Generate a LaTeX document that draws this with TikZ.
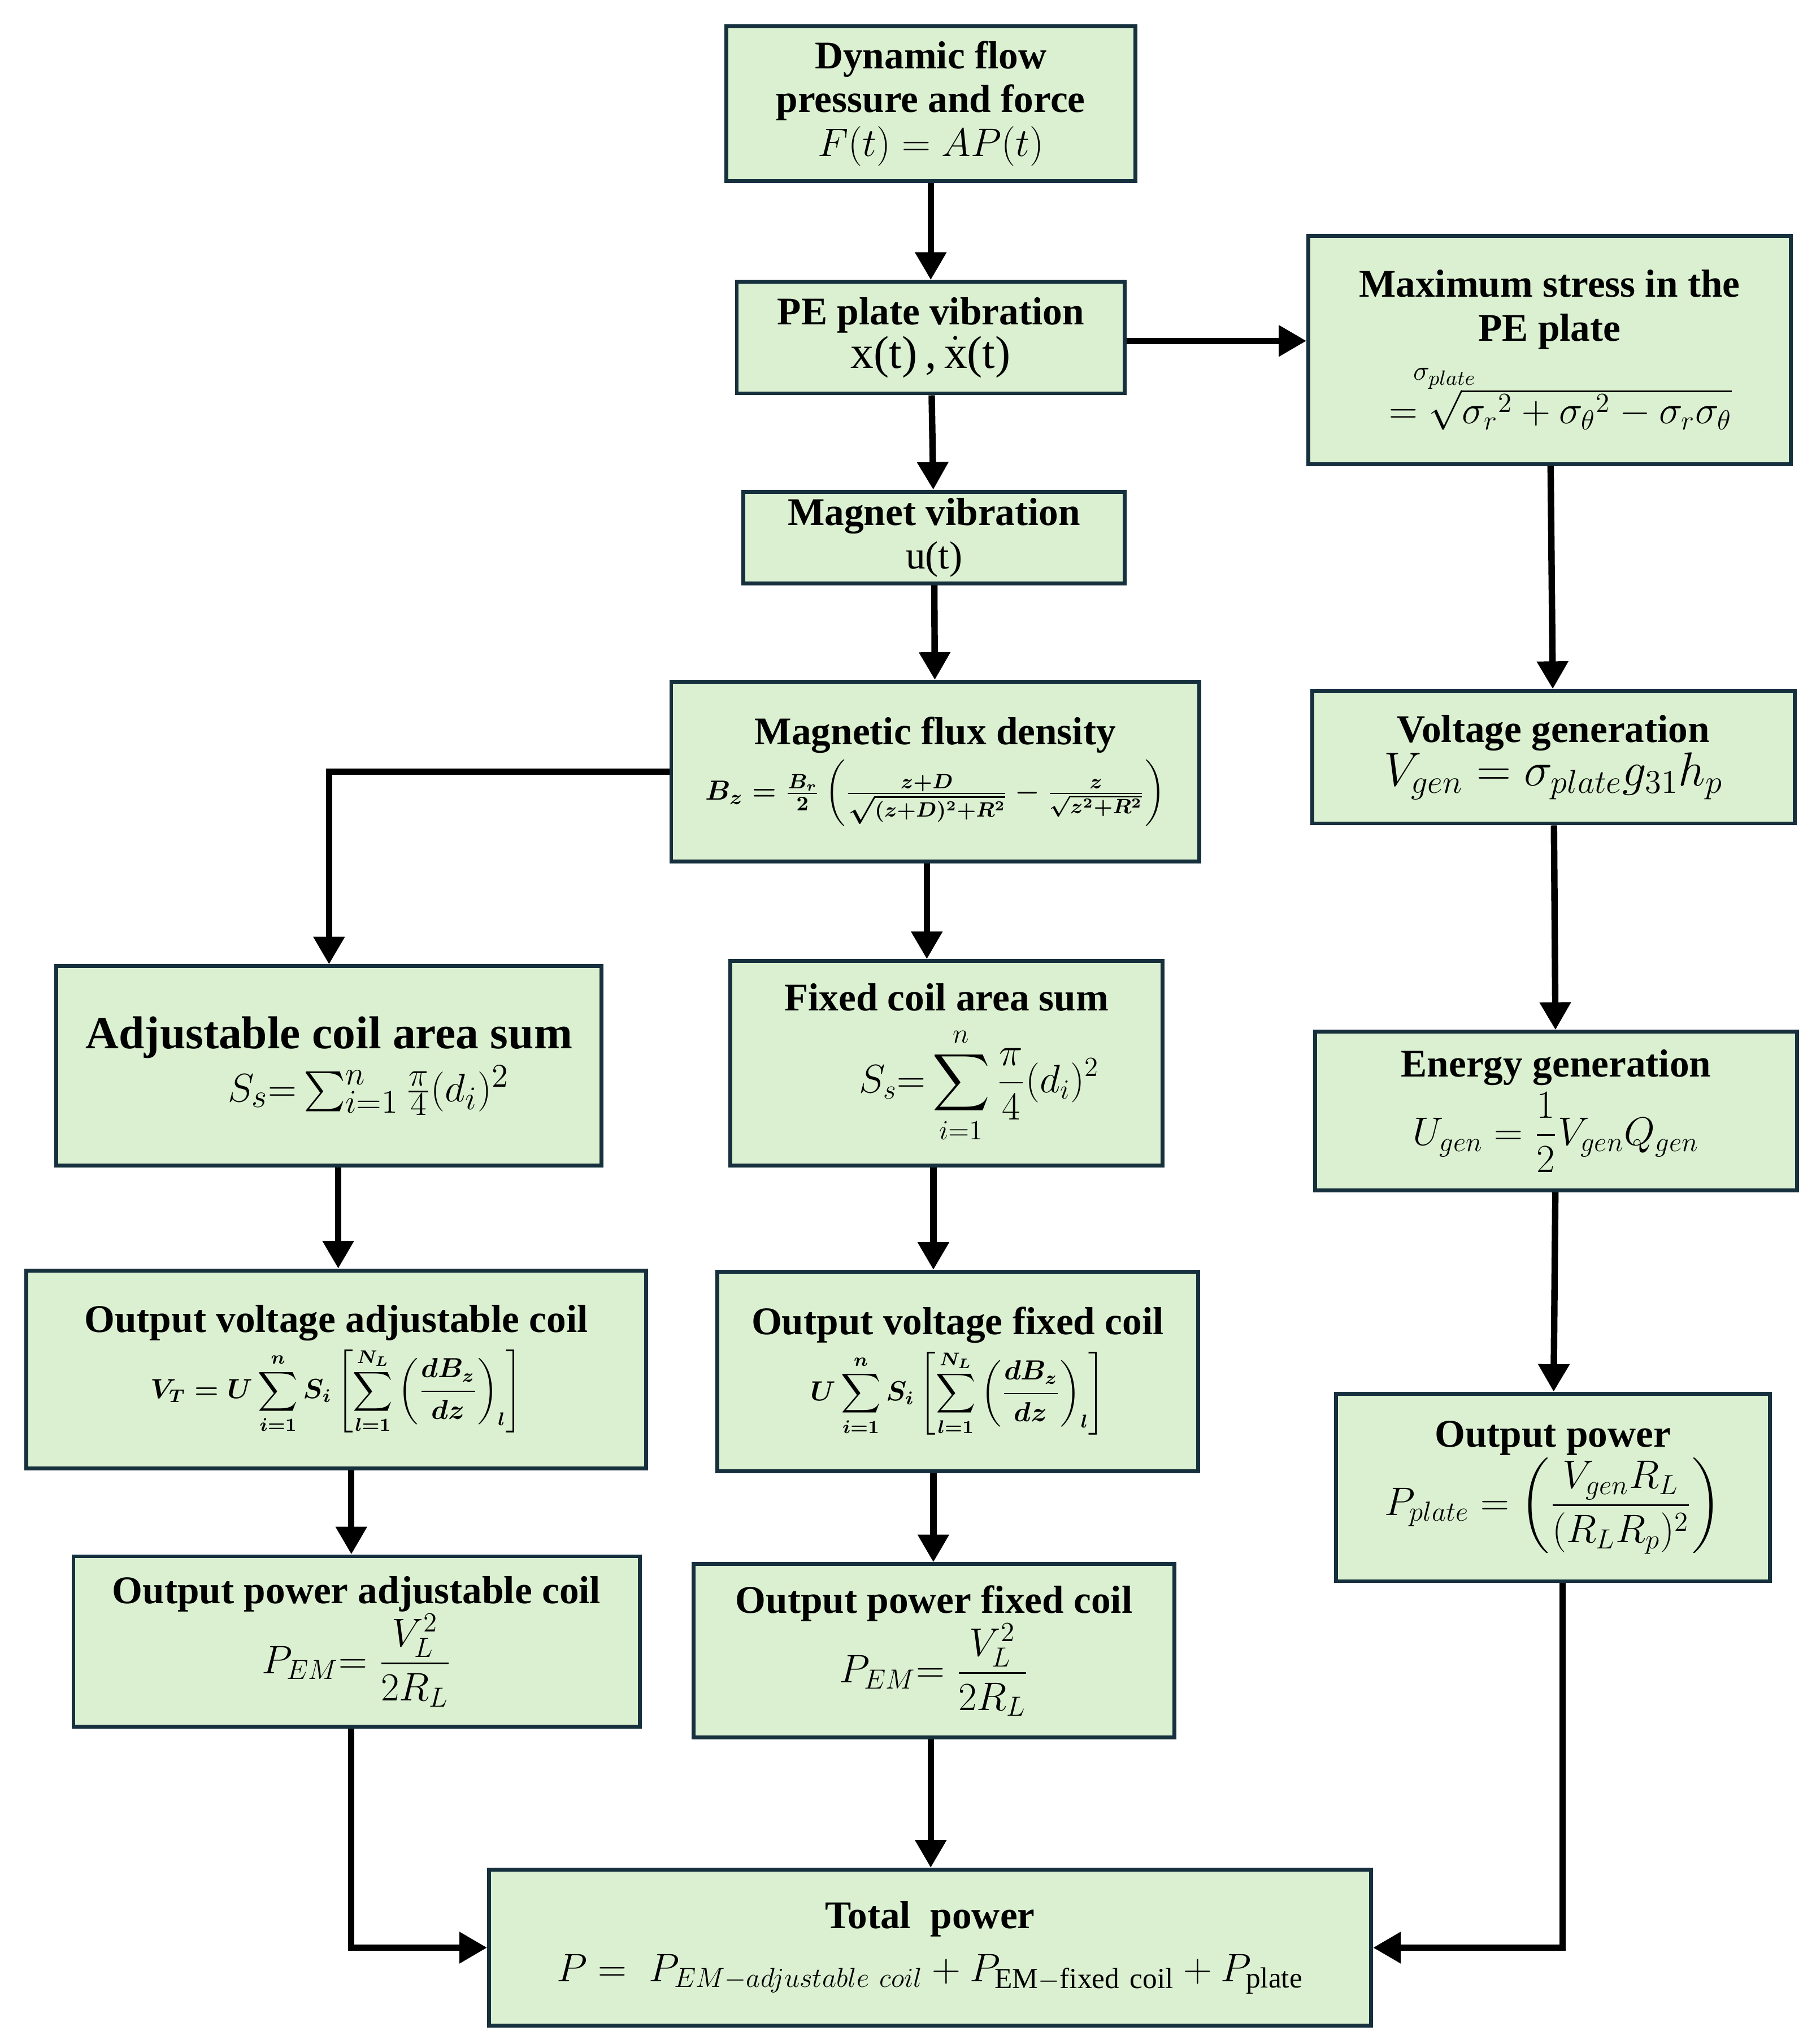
\documentclass[tikz,border=0pt]{standalone}
\usepackage{amsmath}
\usepackage{fontspec}
\setmainfont{Liberation Serif}
\usetikzlibrary{arrows.meta}
\definecolor{boxfill}{RGB}{218,240,208}
\definecolor{boxdraw}{RGB}{22,48,62}
\tikzset{
 box/.style={draw=boxdraw,line width=1.7pt,fill=boxfill,align=center,inner sep=2pt,
   font=\fontsize{17}{21}\selectfont},
 arr/.style={line width=2.8pt,-{Triangle[length=12pt,width=13pt]}},
}
\begin{document}
\begin{tikzpicture}[x=0.02cm,y=-0.02cm]
\useasboundingbox (0,0) rectangle (1385,1559);
\node[box,minimum width=6.24cm,minimum height=2.36cm] (n1) at (710,79) {\textbf{Dynamic flow}\\[-2pt]\textbf{pressure and force}\\[-2pt]$F(t)=AP(t)$};
\node[box,minimum width=5.92cm,minimum height=1.70cm] (n2) at (710,257.5) {\textbf{PE plate vibration}\\[-2pt]{\fontsize{20}{22}\selectfont x(t)\,,\,$\dot{\mathrm{x}}$(t)}};
\node[box,minimum width=7.36cm,minimum height=3.48cm] (n3) at (1182,267) {\textbf{Maximum stress in the}\\[-2pt]\textbf{PE plate}\\[-4pt]\hspace*{-3.2cm}{\fontsize{13}{14}\selectfont$\sigma_{plate}$}\\[-2pt]$\;\;=\sqrt{\sigma_r{}^2+\sigma_\theta{}^2-\sigma_r\sigma_\theta}$};
\node[box,minimum width=5.82cm,minimum height=1.40cm] (n4) at (712.5,410) {\textbf{Magnet vibration}\\[-2pt]u(t)};
\node[box,minimum width=8.06cm,minimum height=2.74cm] (n5) at (713.5,588.5) {\textbf{Magnetic flux density}\\[2pt]{\fontsize{13}{15}\selectfont$\boldsymbol{B_z=\frac{B_r}{2}\left(\frac{z+D}{\sqrt{(z+D)^2+R^2}}-\frac{z}{\sqrt{z^2+R^2}}\right)}$}};
\node[box,minimum width=7.36cm,minimum height=2.02cm] (n6) at (1185,577.5) {\textbf{Voltage generation}\\[-2pt]{\fontsize{20}{22}\selectfont$V_{gen}=\sigma_{plate}g_{31}h_p$}};
\node[box,minimum width=8.32cm,minimum height=3.04cm] (n7) at (251,813) {{\fontsize{20}{24}\selectfont\textbf{Adjustable coil area sum}}\\[2pt]\hspace*{1.2cm}{\fontsize{19}{22}\selectfont$S_s{=}\sum_{i=1}^n\frac{\pi}{4}(d_i)^2$}};
\node[box,minimum width=6.60cm,minimum height=3.12cm] (n8) at (722,811) {\textbf{Fixed coil area sum}\\[6pt]\hspace*{1cm}{\fontsize{17}{20}\selectfont$S_s{=}\displaystyle\sum_{i=1}^n\frac{\pi}{4}(d_i)^2$}};
\node[box,minimum width=7.36cm,minimum height=2.42cm] (n9) at (1187,847.5) {\textbf{Energy generation}\\[2pt]{\fontsize{18}{20}\selectfont$U_{gen}=\dfrac{1}{2}V_{gen}Q_{gen}$}};
\node[box,minimum width=9.46cm,minimum height=3.02cm] (n10) at (256.5,1044.5) {\textbf{Output voltage adjustable coil}\\[2pt]{\fontsize{12}{14}\selectfont$\boldsymbol{V_T=U\displaystyle\sum_{i=1}^n S_i\left[\sum_{l=1}^{N_L}\left(\frac{dB_z}{dz}\right)_l\right]}$}};
\node[box,minimum width=7.34cm,minimum height=3.04cm] (n11) at (730.5,1046) {\textbf{Output voltage fixed coil}\\[2pt]{\fontsize{12}{14}\selectfont$\boldsymbol{U\displaystyle\sum_{i=1}^n S_i\left[\sum_{l=1}^{N_L}\left(\frac{dB_z}{dz}\right)_l\right]}$}};
\node[box,minimum width=6.62cm,minimum height=2.86cm] (n12) at (1184.5,1134.5) {\textbf{Output power}\\[0pt]{\fontsize{17}{20}\selectfont$P_{plate}=\left(\dfrac{V_{gen}R_L}{(R_LR_p)^2}\right)$}};
\node[box,minimum width=8.64cm,minimum height=2.60cm] (n13) at (272,1252) {\textbf{Output power adjustable coil}\\[0pt]{\fontsize{18}{20}\selectfont$P_{EM}{=}\;\dfrac{V_L^2}{2R_L}$}};
\node[box,minimum width=7.34cm,minimum height=2.64cm] (n14) at (712.5,1259) {\textbf{Output power fixed coil}\\[0pt]{\fontsize{18}{20}\selectfont$P_{EM}{=}\;\dfrac{V_L^2}{2R_L}$}};
\node[box,minimum width=13.46cm,minimum height=2.38cm] (n15) at (709.5,1485.5) {\textbf{Total\ \ power}\\[2pt]{\fontsize{18}{20}\selectfont$P=\;P_{EM-adjustable\ coil}+P_{\mathrm{EM-fixed\ coil}}+P_{\mathrm{plate}}$}};
\draw[arr] (n1) -- (n2);
\draw[arr] (n2.east |- 0,260) -- (n3.west |- 0,260);
\draw[arr] (n2) -- (n4);
\draw[arr] (n4) -- (n5);
\draw[arr] (n5.west) -| (n7.north);
\draw[arr] (n5.south -| 707,0) -- (n8.north -| 707,0);
\draw[arr] (n3) -- (n6);
\draw[arr] (n6) -- (n9);
\draw[arr] (n9) -- (n12);
\draw[arr] (n7.south -| 258,0) -- (n10.north -| 258,0);
\draw[arr] (n10.south -| 268,0) -- (n13.north -| 268,0);
\draw[arr] (n8.south -| 712,0) -- (n11.north -| 712,0);
\draw[arr] (n11.south -| 712,0) -- (n14.north -| 712,0);
\draw[arr] (n14.south -| 710,0) -- (n15.north -| 710,0);
\draw[arr] (n13.south -| 268,0) |- (n15.west);
\draw[arr] (n12.south -| 1192,0) |- (n15.east);
\end{tikzpicture}
\end{document}
